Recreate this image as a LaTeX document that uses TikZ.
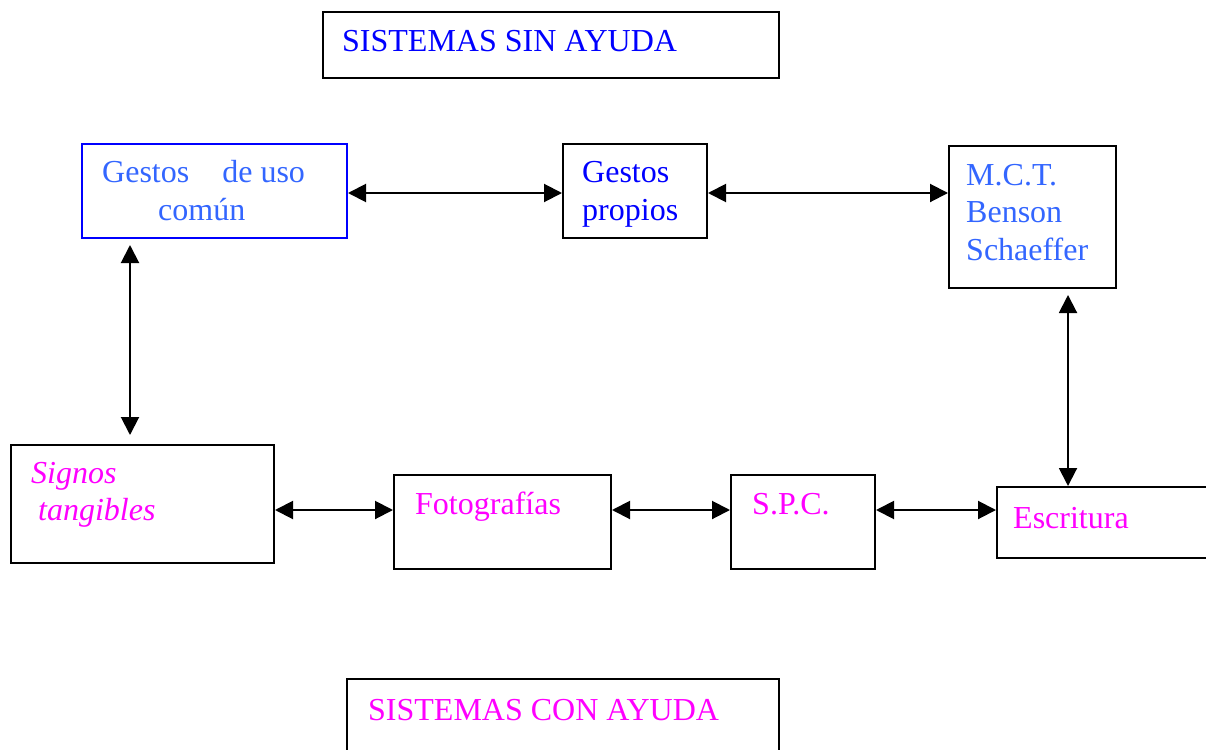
\documentclass[tikz,border=0pt]{standalone}
\usepackage{fontspec}
\setmainfont{Liberation Serif}
\usetikzlibrary{arrows.meta,calc}
\definecolor{tblue}{RGB}{0,0,255}
\definecolor{lblue}{RGB}{51,102,255}
\definecolor{tmag}{RGB}{255,0,255}
\tikzset{
  box/.style={draw=black, line width=2pt, rectangle, inner sep=0pt, anchor=north west},
  txt/.style={anchor=base west, inner sep=0pt, font=\fontsize{32}{38}\selectfont},
  arr/.style={line width=2pt, {Triangle[length=18pt,width=18pt]}-{Triangle[length=18pt,width=18pt]}}
}
\begin{document}
\begin{tikzpicture}[x=1pt,y=-1pt]
\useasboundingbox[fill=white] (0,0) rectangle (1206,749);
% boxes
\node[box, minimum width=456pt, minimum height=66pt] (t1) at (322,11) {};
\node[box, draw=tblue, minimum width=265pt, minimum height=94pt] (gdu) at (81,143) {};
\node[box, minimum width=144pt, minimum height=94pt] (gp) at (562,143) {};
\node[box, minimum width=167pt, minimum height=142pt] (mct) at (948,145) {};
\node[box, minimum width=263pt, minimum height=118pt] (sig) at (10,444) {};
\node[box, minimum width=217pt, minimum height=94pt] (fot) at (393,474) {};
\node[box, minimum width=144pt, minimum height=94pt] (spc) at (730,474) {};
\node[box, minimum width=230pt, minimum height=71pt] (esc) at (996,486) {};
\node[box, minimum width=432pt, minimum height=90pt] (t2) at (346,678) {};
% texts
\node[txt, text=tblue] (t1t) at (342,52) {SISTEMAS SIN AYUDA};
\node[txt, text=lblue] (gdu1) at (102,182) {Gestos\hspace{33pt}de uso};
\node[txt, text=lblue] (gdu2) at (158,220) {común};
\node[txt, text=tblue] (gp1) at (582,182) {Gestos};
\node[txt, text=tblue] (gp2) at (582,220) {propios};
\node[txt, text=lblue] (mct1) at (966,185) {M.C.T.};
\node[txt, text=lblue] (mct2) at (966,222) {Benson};
\node[txt, text=lblue] (mct3) at (966,260) {Schaeffer};
\node[txt, text=tmag, font=\fontsize{32}{38}\selectfont\itshape] (sig1) at (31,483) {Signos};
\node[txt, text=tmag, font=\fontsize{32}{38}\selectfont\itshape] (sig2) at (38,520) {tangibles};
\node[txt, text=tmag] (fott) at (415,514) {Fotografías};
\node[txt, text=tmag] (spct) at (752,514) {S.P.C.};
\node[txt, text=tmag] (esct) at (1013,528) {Escritura};
\node[txt, text=tmag] (t2t) at (368,720) {SISTEMAS CON AYUDA};
% connector rows
\coordinate (r1) at (0,193);
\coordinate (r2) at (0,510);
\coordinate (c1) at (130,0);
\coordinate (c2) at (1068,0);
% connectors
\draw[arr] (gdu.east |- r1) -- (gp.west |- r1);
\draw[arr] (gp.east |- r1) -- (mct.west |- r1);
\draw[arr, shorten <=6pt, shorten >=9pt] (gdu.south -| c1) -- (sig.north -| c1);
\draw[arr, shorten <=6pt] (mct.south -| c2) -- (esc.north -| c2);
\draw[arr] (sig.east |- r2) -- (fot.west |- r2);
\draw[arr] (fot.east |- r2) -- (spc.west |- r2);
\draw[arr] (spc.east |- r2) -- (esc.west |- r2);
\end{tikzpicture}
\end{document}
